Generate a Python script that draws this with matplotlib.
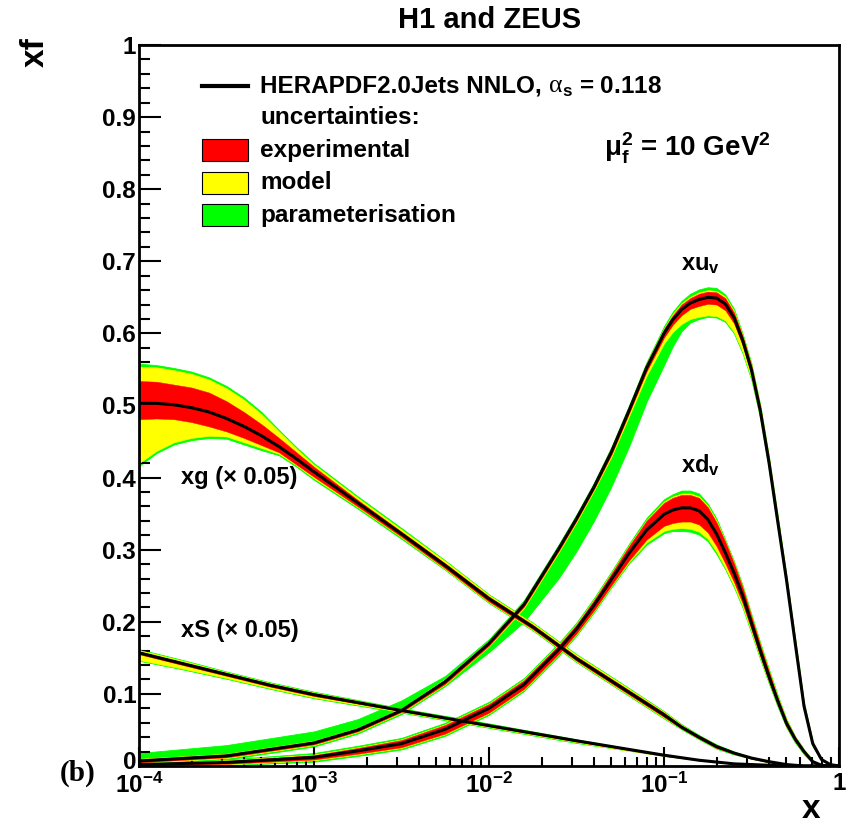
import numpy as np
import matplotlib
matplotlib.use('Agg')
import matplotlib.pyplot as plt
from matplotlib.patches import Rectangle
from matplotlib.lines import Line2D
from matplotlib.ticker import MultipleLocator, NullFormatter
from matplotlib.transforms import ScaledTranslation

plt.rcParams['font.family'] = ['Liberation Sans', 'DejaVu Sans']
plt.rcParams['font.weight'] = 'bold'
plt.rcParams['mathtext.fontset'] = 'custom'
plt.rcParams['mathtext.rm'] = 'Liberation Sans:bold'
plt.rcParams['mathtext.it'] = 'Liberation Sans:bold'
plt.rcParams['mathtext.bf'] = 'Liberation Sans:bold'

# valence curves: values read on this log10(x) grid
v_log_x = [-4, -3.5, -3, -2.75, -2.5, -2.25, -2, -1.8, -1.6, -1.5, -1.4, -1.3, -1.2, -1.1, -1.0, -0.95, -0.9,
           -0.85, -0.8, -0.75, -0.7, -0.65, -0.6, -0.55, -0.5, -0.45, -0.4, -0.35, -0.3, -0.25, -0.2, -0.15,
           -0.1, -0.05, 0]

# xu_v
uv = [0.007, 0.014, 0.032, 0.050, 0.077, 0.117, 0.170, 0.224, 0.302, 0.343, 0.387, 0.436, 0.493, 0.552, 0.600,
      0.619, 0.633, 0.642, 0.647, 0.650, 0.649, 0.641, 0.622, 0.590, 0.549, 0.493, 0.421, 0.339, 0.258, 0.170,
      0.083, 0.031, 0.009, 0.002, 0.0]
uv_exp_dn = [0.002, 0.002, 0.002, 0.002, 0.002, 0.003, 0.003, 0.003, 0.003, 0.003, 0.003, 0.004, 0.004, 0.005, 0.006,
             0.007, 0.008, 0.008, 0.009, 0.009, 0.009, 0.009, 0.008, 0.007, 0.006, 0.005, 0.005, 0.005, 0.004, 0.004,
             0.003, 0.002, 0.001, 0.0, 0.0]
uv_exp_up = [0.002, 0.002, 0.002, 0.002, 0.002, 0.003, 0.003, 0.003, 0.003, 0.003, 0.003, 0.004, 0.004, 0.005, 0.006,
             0.006, 0.007, 0.007, 0.008, 0.008, 0.008, 0.008, 0.007, 0.006, 0.006, 0.005, 0.005, 0.005, 0.004, 0.004,
             0.003, 0.002, 0.001, 0.0, 0.0]
uv_mod_dn = [0.001, 0.001, 0.001, 0.001, 0.001, 0.001, 0.001, 0.002, 0.002, 0.002, 0.002, 0.003, 0.004, 0.006, 0.008,
             0.010, 0.012, 0.014, 0.015, 0.016, 0.016, 0.014, 0.012, 0.009, 0.006, 0.004, 0.003, 0.002, 0.002, 0.001,
             0.001, 0.001, 0.0, 0.0, 0.0]
uv_mod_up = [0.001, 0.001, 0.001, 0.001, 0.001, 0.001, 0.001, 0.001, 0.001, 0.001, 0.001, 0.001, 0.001, 0.001, 0.001,
             0.002, 0.002, 0.002, 0.002, 0.002, 0.002, 0.002, 0.002, 0.001, 0.001, 0.001, 0.001, 0.001, 0.001, 0.001,
             0.001, 0.0, 0.0, 0.0, 0.0]
uv_par_dn = [0.002, 0.002, 0.002, 0.002, 0.002, 0.002, 0.008, 0.019, 0.036, 0.040, 0.042, 0.041, 0.042, 0.036, 0.030,
             0.020, 0.010, 0.005, 0.003, 0.002, 0.002, 0.002, 0.002, 0.002, 0.002, 0.002, 0.002, 0.002, 0.001, 0.001,
             0.001, 0.001, 0.0, 0.0, 0.0]
uv_par_up = [0.008, 0.012, 0.013, 0.012, 0.011, 0.004, 0.002, 0.002, 0.002, 0.002, 0.002, 0.002, 0.002, 0.002, 0.003,
             0.003, 0.003, 0.004, 0.004, 0.004, 0.004, 0.003, 0.003, 0.002, 0.002, 0.002, 0.002, 0.002, 0.001, 0.001,
             0.001, 0.001, 0.0, 0.0, 0.0]

# xd_v
dv = [0.002, 0.005, 0.012, 0.021, 0.031, 0.051, 0.080, 0.113, 0.162, 0.190, 0.223, 0.259, 0.295, 0.327, 0.349,
      0.355, 0.358, 0.358, 0.354, 0.342, 0.322, 0.296, 0.268, 0.236, 0.198, 0.160, 0.124, 0.090, 0.059, 0.037,
      0.020, 0.006, 0.001, 0.0, 0.0]
dv_exp_dn = [0.001, 0.002, 0.003, 0.004, 0.005, 0.006, 0.006, 0.006, 0.006, 0.006, 0.007, 0.008, 0.010, 0.013, 0.016,
             0.018, 0.019, 0.019, 0.019, 0.018, 0.017, 0.015, 0.013, 0.011, 0.009, 0.008, 0.007, 0.005, 0.004, 0.003,
             0.002, 0.001, 0.0, 0.0, 0.0]
dv_exp_up = [0.001, 0.002, 0.003, 0.004, 0.005, 0.006, 0.006, 0.006, 0.006, 0.006, 0.007, 0.008, 0.010, 0.013, 0.016,
             0.017, 0.018, 0.018, 0.018, 0.017, 0.016, 0.015, 0.013, 0.011, 0.009, 0.008, 0.007, 0.005, 0.004, 0.003,
             0.002, 0.001, 0.0, 0.0, 0.0]
dv_mod_dn = [0.001, 0.001, 0.001, 0.001, 0.001, 0.001, 0.001, 0.001, 0.001, 0.001, 0.001, 0.001, 0.002, 0.004, 0.007,
             0.008, 0.009, 0.010, 0.010, 0.009, 0.008, 0.006, 0.005, 0.004, 0.003, 0.002, 0.001, 0.001, 0.001, 0.001,
             0.001, 0.0, 0.0, 0.0, 0.0]
dv_mod_up = [0.0, 0.001, 0.001, 0.001, 0.001, 0.001, 0.001, 0.001, 0.001, 0.001, 0.001, 0.001, 0.001, 0.001, 0.002,
             0.002, 0.002, 0.002, 0.002, 0.002, 0.002, 0.001, 0.001, 0.001, 0.001, 0.001, 0.001, 0.001, 0.001, 0.0,
             0.0, 0.0, 0.0, 0.0, 0.0]
dv_par = [0.001, 0.001, 0.002, 0.002, 0.002, 0.002, 0.002, 0.002, 0.002, 0.002, 0.002, 0.002, 0.002, 0.003, 0.003,
          0.003, 0.004, 0.004, 0.004, 0.003, 0.003, 0.002, 0.002, 0.002, 0.002, 0.002, 0.002, 0.002, 0.001, 0.001,
          0.001, 0.001, 0.0, 0.0, 0.0]

# xg (x 0.05)
g_log_x = [-4, -3.9, -3.8, -3.7, -3.6, -3.5, -3.4, -3.3, -3.2, -3.1, -3, -2.75, -2.5, -2.25, -2, -1.75, -1.5,
           -1.25, -1, -0.9, -0.8, -0.7, -0.6, -0.5, -0.4, -0.3, -0.2, -0.1, 0]
xg = [0.503, 0.503, 0.501, 0.497, 0.491, 0.482, 0.471, 0.458, 0.443, 0.426, 0.408, 0.365, 0.322, 0.278, 0.232,
      0.193, 0.149, 0.110, 0.071, 0.054, 0.040, 0.027, 0.018, 0.011, 0.006, 0.002, 0.0, 0.0, 0.0]
xg_exp_dn = [0.022, 0.021, 0.020, 0.020, 0.020, 0.018, 0.016, 0.013, 0.008, 0.008, 0.007, 0.005, 0.004, 0.004, 0.004,
             0.003, 0.003, 0.003, 0.003, 0.002, 0.002, 0.002, 0.001, 0.001, 0.001, 0.0, 0.0, 0.0, 0.0]
xg_exp_up = [0.031, 0.030, 0.028, 0.028, 0.027, 0.024, 0.020, 0.016, 0.012, 0.009, 0.007, 0.004, 0.003, 0.003, 0.003,
             0.003, 0.003, 0.003, 0.003, 0.002, 0.002, 0.002, 0.001, 0.001, 0.001, 0.0, 0.0, 0.0, 0.0]
xg_mod_dn = [0.061, 0.045, 0.032, 0.022, 0.013, 0.007, 0.006, 0.004, 0.002, 0.001, 0.002, 0.001, 0.001, 0.001, 0.001,
             0.001, 0.001, 0.001, 0.001, 0.0, 0.0, 0.0, 0.0, 0.0, 0.0, 0.0, 0.0, 0.0, 0.0]
xg_mod_up = [0.020, 0.020, 0.020, 0.019, 0.018, 0.018, 0.017, 0.014, 0.009, 0.005, 0.003, 0.003, 0.003, 0.003, 0.002,
             0.002, 0.002, 0.002, 0.001, 0.001, 0.0, 0.0, 0.0, 0.0, 0.0, 0.0, 0.0, 0.0, 0.0]
xg_par = [0.004, 0.003, 0.003, 0.003, 0.003, 0.003, 0.003, 0.003, 0.002, 0.002, 0.002, 0.002, 0.002, 0.001, 0.001,
          0.001, 0.001, 0.001, 0.001, 0.001, 0.001, 0.001, 0.001, 0.0, 0.0, 0.0, 0.0, 0.0, 0.0]

# xS (x 0.05)
s_log_x = [-4, -3.75, -3.5, -3.25, -3, -2.5, -2, -1.5, -1.25, -1, -0.8, -0.6, -0.5, -0.4, -0.3, 0]
xs = [0.157, 0.142, 0.127, 0.112, 0.099, 0.077, 0.056, 0.035, 0.025, 0.015, 0.008, 0.003, 0.002, 0.001, 0.0, 0.0]
xs_exp = [0.002, 0.002, 0.002, 0.002, 0.002, 0.001, 0.001, 0.001, 0.001, 0.001, 0.0, 0.0, 0.0, 0.0, 0.0, 0.0]
xs_mod_dn = [0.008, 0.005, 0.003, 0.002, 0.002, 0.001, 0.001, 0.001, 0.001, 0.0, 0.0, 0.0, 0.0, 0.0, 0.0, 0.0]
xs_mod_up = [0.002, 0.002, 0.001, 0.001, 0.001, 0.001, 0.001, 0.0, 0.0, 0.0, 0.0, 0.0, 0.0, 0.0, 0.0, 0.0]
xs_par = [0.001, 0.001, 0.001, 0.001, 0.001, 0.001, 0.001, 0.001, 0.0, 0.0, 0.0, 0.0, 0.0, 0.0, 0.0, 0.0]

x_ticks = [1e-4, 1e-3, 1e-2, 1e-1, 1]
x_tick_labels = ['$10^{-4}$', '$10^{-3}$', '$10^{-2}$', '$10^{-1}$', '1']
y_ticks = [0, 0.1, 0.2, 0.3, 0.4, 0.5, 0.6, 0.7, 0.8, 0.9, 1]
y_tick_labels = ['0', '0.1', '0.2', '0.3', '0.4', '0.5', '0.6', '0.7', '0.8', '0.9', '1']

RED, YELLOW, GREEN = '#ff0000', '#ffff00', '#00ff00'

fig = plt.figure(figsize=(8.51, 8.27), dpi=100)
ax = fig.add_axes([139 / 851, 61 / 827, 700 / 851, 721 / 827])


def draw_pdf(log_x, c, e_dn, e_up, m_dn, m_up, p_dn, p_up):
    x = 10 ** np.array(log_x)
    c = np.array(c)
    e_dn, e_up = np.array(e_dn), np.array(e_up)
    y_dn, y_up = e_dn + np.array(m_dn), e_up + np.array(m_up)
    g_dn, g_up = y_dn + np.array(p_dn), y_up + np.array(p_up)
    ax.fill_between(x, c - g_dn, c + g_up, color=GREEN, lw=0.6, zorder=1)
    ax.fill_between(x, c - y_dn, c + y_up, color=YELLOW, lw=0.4, zorder=2)
    ax.fill_between(x, c - e_dn, c + e_up, color=RED, lw=0.3, zorder=3)
    ax.plot(x, c, color='black', lw=2.2, zorder=5, solid_joinstyle='round')


draw_pdf(g_log_x, xg, xg_exp_dn, xg_exp_up, xg_mod_dn, xg_mod_up, xg_par, xg_par)
draw_pdf(s_log_x, xs, xs_exp, xs_exp, xs_mod_dn, xs_mod_up, xs_par, xs_par)
draw_pdf(v_log_x, uv, uv_exp_dn, uv_exp_up, uv_mod_dn, uv_mod_up, uv_par_dn, uv_par_up)
draw_pdf(v_log_x, dv, dv_exp_dn, dv_exp_up, dv_mod_dn, dv_mod_up, dv_par, dv_par)

ax.set_xscale('log')
ax.set_xlim(1e-4, 1)
ax.set_ylim(0, 1)
ax.set_xticks(x_ticks)
ax.set_xticklabels(x_tick_labels)
ax.xaxis.set_minor_formatter(NullFormatter())
ax.set_yticks(y_ticks)
ax.set_yticklabels(y_tick_labels)
ax.yaxis.set_minor_locator(MultipleLocator(0.02))
ax.tick_params(which='both', direction='in', top=False, right=False, labelsize=17.5, width=1.5)
ax.tick_params(axis='x', which='major', length=13.5, pad=4.5)
ax.tick_params(axis='x', which='minor', length=6.5)
ax.tick_params(axis='y', which='major', length=15.6, pad=2)
ax.tick_params(axis='y', which='minor', length=7.8)
for sp in ax.spines.values():
    sp.set_linewidth(2)
    sp.set_zorder(6)

# the "0" label sits a little above the corner, clear of 10^-4
zero_lbl = ax.get_yticklabels()[0]
zero_lbl.set_transform(zero_lbl.get_transform() + ScaledTranslation(0, 4 / 72, fig.dpi_scale_trans))

# legend
tr = ax.transAxes
leg_fs = 17.5
ax.add_line(Line2D([0.09, 0.156], [0.943, 0.943], color='black', lw=3, transform=tr))
t_head = ax.text(0.173, 0.943, 'HERAPDF2.0Jets NNLO, ', transform=tr, fontsize=leg_fs, va='center', ha='left')
ax.text(0.173, 0.900, 'uncertainties:', transform=tr, fontsize=leg_fs, va='center', ha='left')
legend_rows = [('experimental', RED, 0.854), ('model', YELLOW, 0.809), ('parameterisation', GREEN, 0.764)]
for label, col, yy in legend_rows:
    ax.add_patch(Rectangle((0.09, yy - 0.0152), 0.066, 0.0305, facecolor=col, edgecolor='black',
                           lw=0.8, transform=tr, zorder=7))
    ax.text(0.173, yy, label, transform=tr, fontsize=leg_fs, va='center', ha='left')


def right_end(t):
    fig.canvas.draw()
    bb = t.get_window_extent()
    return tr.inverted().transform((bb.x1, bb.y0))[0]


t_alpha = ax.text(right_end(t_head), 0.943, '\u03b1', transform=tr, fontsize=leg_fs + 1, va='center',
                  ha='left', family=['Liberation Serif', 'DejaVu Serif'], fontweight='normal')
ax.text(right_end(t_alpha), 0.943, '$_\\mathregular{s}$ = 0.118', transform=tr, fontsize=leg_fs,
        va='center', ha='left')

ax.text(0.783, 0.857, '$\\mathregular{\u03bc_f^2}$ = 10 GeV$^\\mathregular{2}$', transform=tr,
        fontsize=20, va='center', ha='center')

# curve labels
ax.text(10 ** -3.76, 0.40, 'xg (\u00d7 0.05)', fontsize=17, va='center', ha='left')
ax.text(10 ** -3.76, 0.1875, 'xS (\u00d7 0.05)', fontsize=17, va='center', ha='left')
ax.text(10 ** -0.794, 0.696, 'xu$_\\mathregular{v}$', fontsize=17, va='center', ha='center')
ax.text(10 ** -0.794, 0.418, 'xd$_\\mathregular{v}$', fontsize=17, va='center', ha='center')

fig.text(490 / 851, 1 - 20 / 827, 'H1 and ZEUS', fontsize=21, ha='center', va='center')
fig.text(35 / 851, 1 - 52 / 827, 'xf', fontsize=24, ha='center', va='center', rotation=90)
fig.text(811 / 851, 1 - 810 / 827, 'x', fontsize=24, ha='center', va='center')
fig.text(78 / 851, 1 - 773 / 827, '(b)', fontsize=21, ha='center', va='center',
         family=['Liberation Serif', 'DejaVu Serif'])

fig.savefig('out.png', dpi=100)
